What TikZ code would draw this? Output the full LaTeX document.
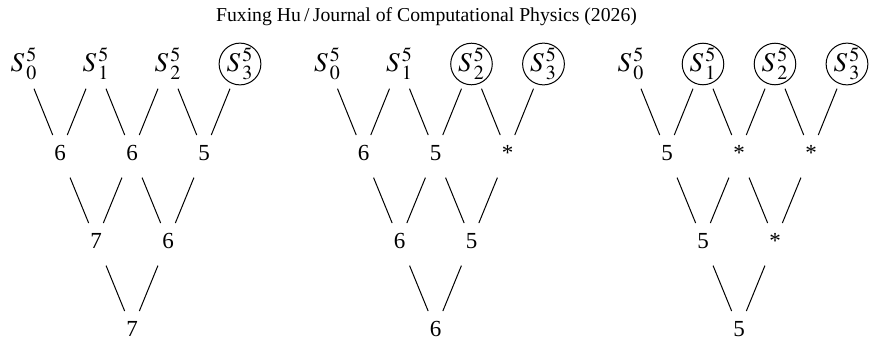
\documentclass[tikz,border=0pt]{standalone}
\usepackage{mathptmx}
\usepackage{fontspec}
\setmainfont{Liberation Serif}
\DeclareMathSizes{13.5}{13.5}{10}{7.5}
\usetikzlibrary{calc}

\begin{document}
\begin{tikzpicture}[x=0.5pt,y=-0.5pt]

% Styles
\tikzset{
  snode/.style={
    inner sep=0pt,
    font=\fontsize{13.5}{15}\selectfont
  },
  flagged/.style={
    snode,
    circle,
    draw=black,
    line width=0.5pt,
    minimum size=20.5pt
  },
  val/.style={
    inner sep=0pt,
    font=\fontsize{11.5}{13}\selectfont
  },
  link/.style={
    line width=0.5pt,
    shorten <=13.3pt,
    shorten >=9.7pt
  }
}

% Frame
\useasboundingbox (0,0) rectangle (874,343);

% Title
\node[font=\fontsize{9.85}{11}\selectfont] (title) at (426.5,17)
  {Fuxing Hu\,/\,Journal of Computational Physics (2026)};

% ----------------------------
% Left tree: only S_3 flagged
% ----------------------------
\begin{scope}[shift={(24,64)}]
  \node[snode]   (aS0) at (0,0)   {$S^{\,5}_{\,0}$};
  \node[snode]   (aS1) at (72,0)  {$S^{\,5}_{\,1}$};
  \node[snode]   (aS2) at (144,0) {$S^{\,5}_{\,2}$};
  \node[flagged] (aS3) at (216,0) {$S^{\,5}_{\,3}$};

  \node[val] (a10) at (36,89)  {6};
  \node[val] (a11) at (108,89) {6};
  \node[val] (a12) at (180,89) {5};

  \node[val] (a20) at (72,177)  {7};
  \node[val] (a21) at (144,177) {6};

  \node[val] (a30) at (108,265) {7};

  \draw[link] (aS0.center) -- (a10.center);
  \draw[link] (aS1.center) -- (a10.center);
  \draw[link] (aS1.center) -- (a11.center);
  \draw[link] (aS2.center) -- (a11.center);
  \draw[link] (aS2.center) -- (a12.center);
  \draw[link] (aS3.center) -- (a12.center);

  \draw[link] (a10.center) -- (a20.center);
  \draw[link] (a11.center) -- (a20.center);
  \draw[link] (a11.center) -- (a21.center);
  \draw[link] (a12.center) -- (a21.center);

  \draw[link] (a20.center) -- (a30.center);
  \draw[link] (a21.center) -- (a30.center);
\end{scope}

% ----------------------------
% Middle tree: S_2, S_3 flagged
% ----------------------------
\begin{scope}[shift={(327.5,64)}]
  \node[snode]   (bS0) at (0,0)   {$S^{\,5}_{\,0}$};
  \node[snode]   (bS1) at (72,0)  {$S^{\,5}_{\,1}$};
  \node[flagged] (bS2) at (144,0) {$S^{\,5}_{\,2}$};
  \node[flagged] (bS3) at (216,0) {$S^{\,5}_{\,3}$};

  \node[val] (b10) at (36,89)  {6};
  \node[val] (b11) at (108,89) {5};
  \node[val] (b12) at (180,89) {*};

  \node[val] (b20) at (72,177)  {6};
  \node[val] (b21) at (144,177) {5};

  \node[val] (b30) at (108,265) {6};

  \draw[link] (bS0.center) -- (b10.center);
  \draw[link] (bS1.center) -- (b10.center);
  \draw[link] (bS1.center) -- (b11.center);
  \draw[link] (bS2.center) -- (b11.center);
  \draw[link] (bS2.center) -- (b12.center);
  \draw[link] (bS3.center) -- (b12.center);

  \draw[link] (b10.center) -- (b20.center);
  \draw[link] (b11.center) -- (b20.center);
  \draw[link] (b11.center) -- (b21.center);
  \draw[link] (b12.center) -- (b21.center);

  \draw[link] (b20.center) -- (b30.center);
  \draw[link] (b21.center) -- (b30.center);
\end{scope}

% ----------------------------
% Right tree: S_1, S_2, S_3 flagged
% ----------------------------
\begin{scope}[shift={(631,64)}]
  \node[snode]   (cS0) at (0,0)   {$S^{\,5}_{\,0}$};
  \node[flagged] (cS1) at (72,0)  {$S^{\,5}_{\,1}$};
  \node[flagged] (cS2) at (144,0) {$S^{\,5}_{\,2}$};
  \node[flagged] (cS3) at (216,0) {$S^{\,5}_{\,3}$};

  \node[val] (c10) at (36,89)  {5};
  \node[val] (c11) at (108,89) {*};
  \node[val] (c12) at (180,89) {*};

  \node[val] (c20) at (72,177)  {5};
  \node[val] (c21) at (144,177) {*};

  \node[val] (c30) at (108,265) {5};

  \draw[link] (cS0.center) -- (c10.center);
  \draw[link] (cS1.center) -- (c10.center);
  \draw[link] (cS1.center) -- (c11.center);
  \draw[link] (cS2.center) -- (c11.center);
  \draw[link] (cS2.center) -- (c12.center);
  \draw[link] (cS3.center) -- (c12.center);

  \draw[link] (c10.center) -- (c20.center);
  \draw[link] (c11.center) -- (c20.center);
  \draw[link] (c11.center) -- (c21.center);
  \draw[link] (c12.center) -- (c21.center);

  \draw[link] (c20.center) -- (c30.center);
  \draw[link] (c21.center) -- (c30.center);
\end{scope}

\end{tikzpicture}
\end{document}
